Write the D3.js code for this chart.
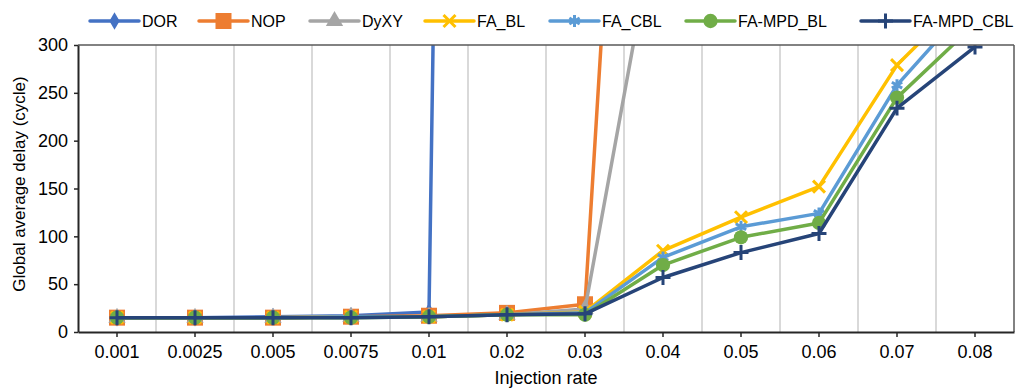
<!DOCTYPE html>
<html>
<head>
<meta charset="utf-8">
<script src="https://cdn.jsdelivr.net/npm/d3@7"></script>
<style>
  body { margin: 0; background: #fff; }
  text { font-family: "Liberation Sans", Arial, sans-serif; fill: #000; }
</style>
</head>
<body>
<div id="chartArea"></div>
<script>
const width = 1017;
const height = 390;

const categories = ["0.001", "0.0025", "0.005", "0.0075", "0.01", "0.02", "0.03", "0.04", "0.05", "0.06", "0.07", "0.08"];
const yTicks = [0, 50, 100, 150, 200, 250, 300];

const dor = [15, 15, 16, 17, 21, 5400, null, null, null, null, null, null];
const nop = [15, 15, 15, 16, 17, 20, 29, 1350, null, null, null, null];
const dyxy = [15, 15, 15, 16, 16, 18, 24, 470, null, null, null, null];
const faBL = [15, 15, 15, 16, 16, 18, 21, 85, 120, 152, 279, 360];
const faCBL = [15, 15, 15, 16, 16, 18, 20, 78, 110, 124, 258, 349];
const mpdBL = [15, 15, 15, 15, 16, 18, 18, 70, 99, 114, 245, 322];
const mpdCBL = [15, 15, 15, 15, 16, 18, 19, 57, 83, 103, 234, 298];

const seriesNames = ["DOR", "NOP", "DyXY", "FA_BL", "FA_CBL", "FA-MPD_BL", "FA-MPD_CBL"];
const seriesColors = ["#4472C4", "#ED7D31", "#A5A5A5", "#FFC000", "#5B9BD5", "#70AD47", "#264478"];
const seriesValues = [dor, nop, dyxy, faBL, faCBL, mpdBL, mpdCBL];

// marker: [symbol, size, filled]
const markers = [
    [d3.symbolDiamond, 90, true],
    [d3.symbolSquare, 256, true],
    [d3.symbolTriangle, 130, true],
    [d3.symbolTimes, 95, false],
    [d3.symbolAsterisk, 100, false],
    [d3.symbolCircle, 160, true],
    [d3.symbolPlus, 75, false]
];

const margin = { left: 78, right: 1014, top: 45, bottom: 332 };

const svg = d3.select("#chartArea")
    .append("svg")
    .attr("width", width)
    .attr("height", height);

const x = d3.scaleBand()
    .domain(categories)
    .range([margin.left, margin.right])
    .padding(0);

const y = d3.scaleLinear()
    .domain([0, 300])
    .range([margin.bottom, margin.top]);

const cx = c => x(c) + x.bandwidth() / 2;

// vertical gridlines between categories
svg.append("g")
    .selectAll("line")
    .data(categories.slice(1))
    .enter().append("line")
    .attr("x1", d => x(d))
    .attr("x2", d => x(d))
    .attr("y1", margin.top)
    .attr("y2", margin.bottom)
    .attr("stroke", "#d9d9d9")
    .attr("stroke-width", 2);

// clip
svg.append("defs").append("clipPath")
    .attr("id", "plotClip")
    .append("rect")
    .attr("x", margin.left)
    .attr("y", margin.top)
    .attr("width", margin.right - margin.left)
    .attr("height", margin.bottom - margin.top);

const plot = svg.append("g").attr("clip-path", "url(#plotClip)");

const line = d3.line()
    .defined(d => d.v !== null)
    .x(d => cx(d.c))
    .y(d => y(d.v));

const symbolGen = (i) => d3.symbol().type(markers[i][0]).size(markers[i][1]);

seriesValues.forEach((vals, i) => {
    const pts = categories.map((c, j) => ({ c: c, v: vals[j] }));
    const color = seriesColors[i];
    plot.append("path")
        .datum(pts)
        .attr("fill", "none")
        .attr("stroke", color)
        .attr("stroke-width", 3.5)
        .attr("stroke-linejoin", "round")
        .attr("d", line);

    plot.append("g")
        .selectAll("path")
        .data(pts.filter(d => d.v !== null && d.v < 400))
        .enter().append("path")
        .attr("transform", d => `translate(${cx(d.c)},${y(d.v)})`)
        .attr("d", symbolGen(i)())
        .attr("fill", markers[i][2] ? color : "none")
        .attr("stroke", color)
        .attr("stroke-width", markers[i][2] ? 0 : 3);
});

// frame
svg.append("line")
    .attr("x1", margin.left).attr("x2", margin.right)
    .attr("y1", margin.top).attr("y2", margin.top)
    .attr("stroke", "#595959").attr("stroke-width", 1.5);
svg.append("line")
    .attr("x1", margin.right).attr("x2", margin.right)
    .attr("y1", margin.top).attr("y2", margin.bottom)
    .attr("stroke", "#595959").attr("stroke-width", 1.5);

// axes
const xAxis = svg.append("g")
    .attr("transform", `translate(0,${margin.bottom})`)
    .call(d3.axisBottom(x).tickSizeInner(5).tickSizeOuter(0).tickPadding(8));
const yAxis = svg.append("g")
    .attr("transform", `translate(${margin.left},0)`)
    .call(d3.axisLeft(y).tickValues(yTicks).tickSizeInner(4).tickSizeOuter(0).tickPadding(6));

[xAxis, yAxis].forEach(a => {
    a.select(".domain").attr("stroke", "#262626").attr("stroke-width", 2);
    a.selectAll(".tick line").attr("stroke", "#262626").attr("stroke-width", 1.5);
    a.selectAll(".tick text")
        .style("font-family", '"Liberation Sans", Arial, sans-serif')
        .style("font-size", "18px")
        .attr("fill", "#000");
});

// axis titles
svg.append("text")
    .attr("x", (margin.left + margin.right) / 2)
    .attr("y", 384)
    .attr("text-anchor", "middle")
    .style("font-size", "18px")
    .text("Injection rate");

svg.append("text")
    .attr("transform", `translate(25,184) rotate(-90)`)
    .attr("text-anchor", "middle")
    .style("font-size", "17px")
    .text("Global average delay (cycle)");

// legend
const legendX = [90, 199, 310, 425, 550, 686, 861];
const legendY = 21;
const legend = svg.append("g");
seriesNames.forEach((name, i) => {
    const g = legend.append("g").attr("transform", `translate(${legendX[i]},${legendY})`);
    g.append("line")
        .attr("x1", 0).attr("x2", 49)
        .attr("y1", 0).attr("y2", 0)
        .attr("stroke", seriesColors[i])
        .attr("stroke-width", 3.5)
        .attr("stroke-linecap", "round");
    g.append("path")
        .attr("transform", "translate(24.5,0)")
        .attr("d", symbolGen(i)())
        .attr("fill", markers[i][2] ? seriesColors[i] : "none")
        .attr("stroke", seriesColors[i])
        .attr("stroke-width", markers[i][2] ? 0 : 3);
    g.append("text")
        .attr("x", 52)
        .attr("y", 6)
        .style("font-size", "16px")
        .text(name);
});
</script>
</body>
</html>
